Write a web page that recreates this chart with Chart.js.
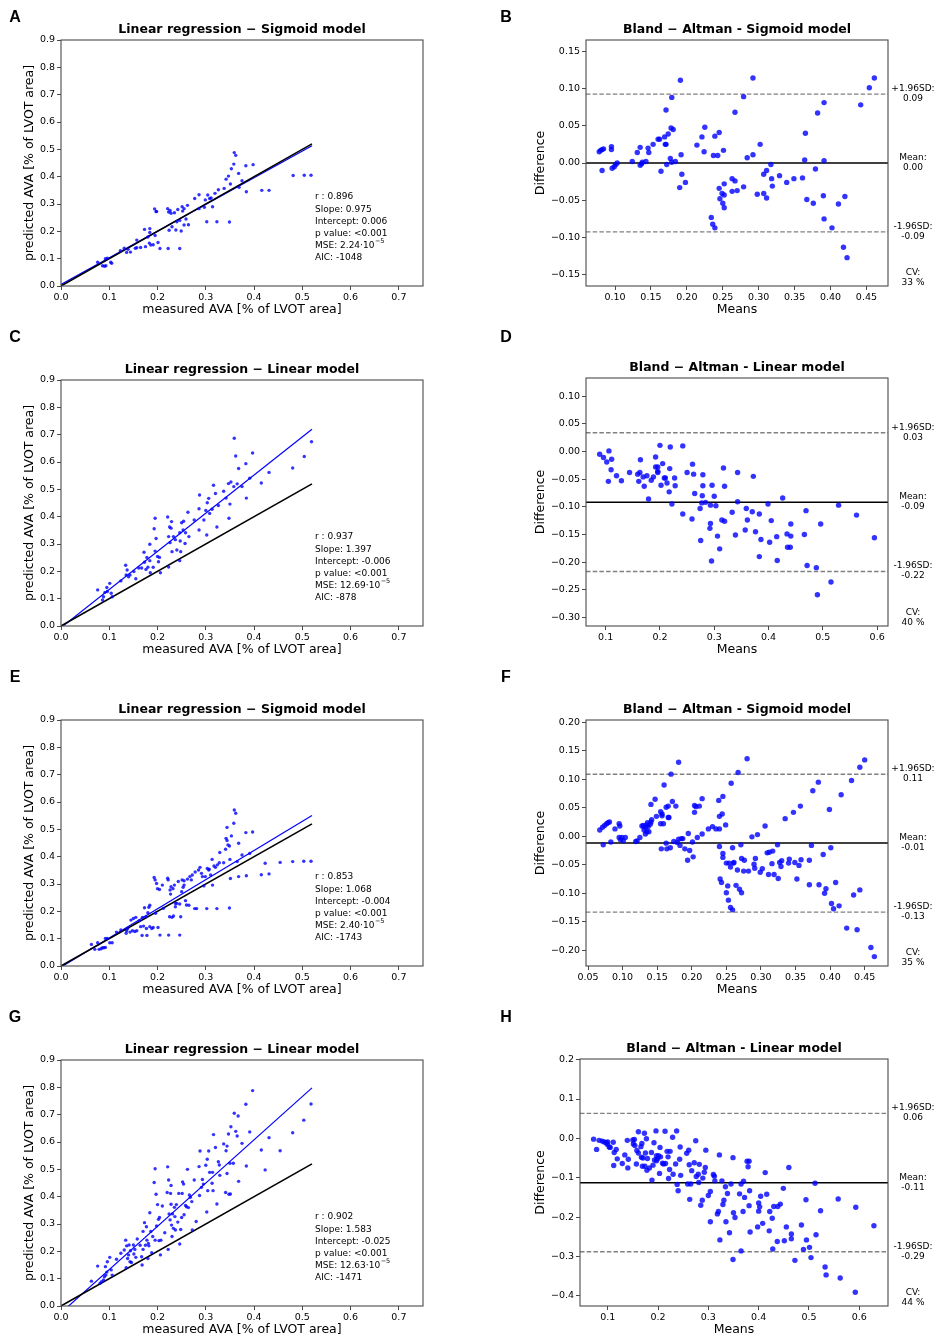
<!DOCTYPE html>
<html>
<head>
<meta charset="utf-8">
<script src="https://cdn.jsdelivr.net/npm/chart.js@4.4.1/dist/chart.umd.min.js"></script>
<style>
  html, body { margin: 0; padding: 0; background: #fff; }
  #fig { position: relative; width: 937px; height: 1339px; overflow: hidden; }
  .cell { position: absolute; }
  .letter { position: absolute; font: bold 16px "Liberation Sans", Arial, sans-serif; color: #000; transform: translate(-50%, -50%); }
</style>
</head>
<body>
<div id="fig"></div>
<script>
// ── Data ─────────────────────────────────────────────────────────────────────

const regXTicks = ['0.0', '0.1', '0.2', '0.3', '0.4', '0.5', '0.6', '0.7'];
const regYTicks = ['0.0', '0.1', '0.2', '0.3', '0.4', '0.5', '0.6', '0.7', '0.8', '0.9'];
const lineX     = [0, 0.52];
const identityY = [0, 0.52];

// A – regression, sigmoid model
const pointsA = [[0.076,0.087],[0.086,0.074],[0.090,0.072],[0.093,0.074],[0.092,0.100],[0.096,0.102],[0.103,0.087],[0.105,0.083],[0.123,0.129],[0.131,0.138],[0.136,0.123],[0.139,0.134],[0.144,0.124],[0.154,0.138],[0.157,0.168],[0.157,0.140],[0.165,0.141],[0.173,0.207],[0.175,0.144],[0.180,0.179],[0.184,0.210],[0.184,0.196],[0.183,0.157],[0.186,0.150],[0.191,0.151],[0.194,0.282],[0.197,0.272],[0.195,0.185],[0.198,0.273],[0.201,0.159],[0.205,0.137],[0.222,0.137],[0.221,0.283],[0.223,0.271],[0.224,0.204],[0.226,0.276],[0.228,0.266],[0.230,0.217],[0.235,0.268],[0.238,0.205],[0.240,0.235],[0.242,0.280],[0.246,0.240],[0.246,0.137],[0.249,0.201],[0.251,0.290],[0.252,0.274],[0.255,0.283],[0.255,0.223],[0.259,0.245],[0.262,0.295],[0.264,0.224],[0.277,0.320],[0.286,0.334],[0.286,0.283],[0.297,0.288],[0.299,0.315],[0.302,0.235],[0.304,0.333],[0.308,0.320],[0.311,0.322],[0.314,0.290],[0.319,0.339],[0.323,0.235],[0.326,0.352],[0.338,0.357],[0.342,0.391],[0.347,0.402],[0.349,0.234],[0.351,0.373],[0.353,0.429],[0.358,0.446],[0.359,0.488],[0.362,0.478],[0.368,0.412],[0.369,0.361],[0.375,0.385],[0.383,0.440],[0.384,0.345],[0.398,0.444],[0.416,0.350],[0.431,0.350],[0.481,0.404],[0.504,0.405],[0.518,0.405]];
const fitA   = [0.006, 0.513];
const statsA = ['r : 0.896', 'Slope: 0.975', 'Intercept: 0.006', 'p value: <0.001', 'MSE: 2.24·10', 'AIC: -1048'];

// B – Bland-Altman, sigmoid model
const pointsB = [[0.078,0.015],[0.080,0.017],[0.082,0.018],[0.084,0.019],[0.082,-0.010],[0.095,0.022],[0.095,0.018],[0.096,-0.007],[0.099,-0.005],[0.101,-0.002],[0.103,0.000],[0.124,0.002],[0.131,0.014],[0.135,0.021],[0.135,-0.003],[0.137,-0.001],[0.138,0.001],[0.143,0.002],[0.146,0.020],[0.147,0.014],[0.153,0.025],[0.160,0.032],[0.162,0.032],[0.164,-0.011],[0.169,0.035],[0.170,0.025],[0.171,0.025],[0.171,0.071],[0.172,-0.002],[0.174,0.039],[0.177,0.006],[0.178,0.047],[0.179,0.088],[0.179,0.001],[0.181,0.045],[0.184,0.002],[0.191,0.111],[0.192,0.011],[0.193,-0.015],[0.190,-0.033],[0.198,-0.026],[0.214,0.024],[0.221,0.035],[0.225,0.048],[0.224,0.015],[0.234,-0.073],[0.236,-0.082],[0.239,-0.087],[0.237,0.010],[0.239,0.036],[0.243,0.010],[0.245,0.041],[0.245,-0.034],[0.246,-0.048],[0.249,-0.041],[0.250,-0.054],[0.252,-0.043],[0.252,-0.060],[0.252,-0.028],[0.251,0.017],[0.263,-0.021],[0.267,-0.024],[0.263,-0.038],[0.267,0.068],[0.270,-0.037],[0.279,0.089],[0.279,-0.032],[0.284,0.007],[0.292,0.011],[0.292,0.114],[0.298,-0.042],[0.302,0.025],[0.307,-0.041],[0.307,-0.015],[0.311,-0.010],[0.311,-0.047],[0.317,-0.002],[0.318,-0.021],[0.319,-0.031],[0.329,-0.017],[0.339,-0.026],[0.349,-0.021],[0.361,-0.020],[0.364,0.004],[0.365,0.040],[0.367,-0.049],[0.376,-0.054],[0.379,-0.008],[0.382,0.067],[0.390,-0.044],[0.391,0.003],[0.391,0.081],[0.391,-0.075],[0.402,-0.087],[0.411,-0.055],[0.420,-0.045],[0.418,-0.113],[0.423,-0.127],[0.442,0.078],[0.454,0.101],[0.461,0.114]];
const xTicksB  = ['0.10', '0.15', '0.20', '0.25', '0.30', '0.35', '0.40', '0.45'];
const yTicksB  = ['−0.15', '−0.10', '−0.05', '0.00', '0.05', '0.10', '0.15'];
const xRangeB  = [0.0596, 0.480];
const yRangeB  = [-0.165, 0.165];
const limitsB  = [0.0924, 0.000, -0.0924];            // +1.96SD, mean, -1.96SD
const labelsB  = ['0.09', '0.00', '-0.09', '33 %'];

// C – regression, linear model
const pointsC = [[0.076,0.132],[0.086,0.095],[0.088,0.107],[0.091,0.123],[0.095,0.141],[0.096,0.126],[0.101,0.156],[0.104,0.120],[0.106,0.107],[0.124,0.165],[0.134,0.222],[0.135,0.187],[0.137,0.205],[0.140,0.180],[0.143,0.187],[0.151,0.199],[0.155,0.173],[0.161,0.212],[0.167,0.212],[0.172,0.270],[0.173,0.233],[0.176,0.207],[0.178,0.251],[0.180,0.215],[0.184,0.299],[0.184,0.239],[0.185,0.195],[0.191,0.215],[0.193,0.356],[0.195,0.394],[0.195,0.274],[0.197,0.320],[0.200,0.254],[0.202,0.235],[0.204,0.251],[0.206,0.195],[0.221,0.399],[0.223,0.216],[0.223,0.327],[0.225,0.362],[0.226,0.305],[0.228,0.358],[0.229,0.382],[0.230,0.272],[0.233,0.327],[0.237,0.316],[0.240,0.278],[0.246,0.341],[0.246,0.239],[0.247,0.311],[0.248,0.272],[0.250,0.378],[0.253,0.351],[0.254,0.383],[0.257,0.302],[0.258,0.341],[0.263,0.416],[0.265,0.327],[0.276,0.388],[0.286,0.351],[0.286,0.429],[0.287,0.479],[0.296,0.388],[0.300,0.423],[0.302,0.333],[0.303,0.451],[0.306,0.467],[0.308,0.412],[0.313,0.427],[0.316,0.515],[0.320,0.485],[0.323,0.362],[0.326,0.441],[0.337,0.493],[0.342,0.468],[0.347,0.521],[0.348,0.394],[0.350,0.446],[0.352,0.527],[0.358,0.510],[0.359,0.687],[0.362,0.622],[0.365,0.520],[0.368,0.576],[0.375,0.510],[0.383,0.594],[0.384,0.468],[0.391,0.541],[0.397,0.633],[0.415,0.523],[0.431,0.562],[0.480,0.578],[0.504,0.620],[0.519,0.674]];
const fitC   = [-0.006, 0.720];
const statsC = ['r : 0.937', 'Slope: 1.397', 'Intercept: -0.006', 'p value: <0.001', 'MSE: 12.69·10', 'AIC: -878'];

// D – Bland-Altman, linear model
const pointsD = [[0.089,-0.005],[0.096,-0.011],[0.102,-0.019],[0.106,0.001],[0.111,-0.014],[0.110,-0.033],[0.105,-0.054],[0.120,-0.044],[0.129,-0.053],[0.144,-0.038],[0.159,-0.041],[0.163,-0.038],[0.161,-0.054],[0.164,-0.015],[0.169,-0.046],[0.171,-0.063],[0.176,-0.044],[0.179,-0.086],[0.184,-0.052],[0.188,-0.046],[0.192,-0.010],[0.192,-0.028],[0.196,-0.038],[0.196,-0.028],[0.196,-0.036],[0.200,0.011],[0.202,-0.061],[0.205,-0.022],[0.208,-0.048],[0.210,-0.048],[0.213,-0.057],[0.217,-0.073],[0.218,-0.031],[0.219,0.008],[0.222,-0.095],[0.227,-0.048],[0.228,-0.062],[0.242,0.010],[0.242,-0.113],[0.250,-0.038],[0.259,-0.122],[0.260,-0.023],[0.262,-0.041],[0.264,-0.076],[0.274,-0.103],[0.275,-0.161],[0.277,-0.093],[0.278,-0.080],[0.279,-0.042],[0.279,-0.062],[0.284,-0.092],[0.293,-0.097],[0.293,-0.130],[0.292,-0.139],[0.295,-0.198],[0.296,-0.061],[0.300,-0.081],[0.303,-0.098],[0.306,-0.153],[0.310,-0.176],[0.314,-0.124],[0.317,-0.030],[0.319,-0.126],[0.319,-0.063],[0.333,-0.110],[0.339,-0.151],[0.343,-0.038],[0.343,-0.091],[0.359,-0.103],[0.361,-0.124],[0.357,-0.142],[0.370,-0.109],[0.372,-0.045],[0.376,-0.145],[0.383,-0.190],[0.383,-0.113],[0.386,-0.159],[0.399,-0.095],[0.402,-0.164],[0.405,-0.125],[0.415,-0.154],[0.416,-0.197],[0.426,-0.084],[0.434,-0.149],[0.435,-0.173],[0.440,-0.173],[0.441,-0.131],[0.441,-0.153],[0.466,-0.150],[0.469,-0.107],[0.471,-0.206],[0.488,-0.210],[0.490,-0.259],[0.496,-0.131],[0.515,-0.236],[0.529,-0.097],[0.562,-0.115],[0.595,-0.156]];
const xTicksD  = ['0.1', '0.2', '0.3', '0.4', '0.5', '0.6'];
const yTicksD  = ['−0.30', '−0.25', '−0.20', '−0.15', '−0.10', '−0.05', '0.00', '0.05', '0.10'];
const xRangeD  = [0.0638, 0.620];
const yRangeD  = [-0.3154, 0.1327];
const limitsD  = [0.0338, -0.0917, -0.217];
const labelsD  = ['0.03', '-0.09', '-0.22', '40 %'];

// E – regression, sigmoid model
const pointsE = [[0.063,0.079],[0.070,0.061],[0.076,0.085],[0.079,0.061],[0.083,0.063],[0.086,0.067],[0.089,0.067],[0.092,0.068],[0.092,0.101],[0.096,0.101],[0.101,0.085],[0.106,0.085],[0.115,0.124],[0.124,0.132],[0.135,0.120],[0.136,0.129],[0.138,0.137],[0.143,0.124],[0.145,0.168],[0.148,0.129],[0.150,0.174],[0.153,0.126],[0.155,0.178],[0.157,0.129],[0.162,0.166],[0.165,0.144],[0.168,0.112],[0.169,0.178],[0.171,0.146],[0.173,0.213],[0.176,0.180],[0.177,0.137],[0.178,0.112],[0.180,0.195],[0.182,0.215],[0.184,0.222],[0.184,0.144],[0.188,0.137],[0.191,0.141],[0.193,0.324],[0.195,0.315],[0.196,0.193],[0.198,0.302],[0.200,0.283],[0.201,0.141],[0.204,0.280],[0.205,0.113],[0.210,0.296],[0.212,0.211],[0.221,0.321],[0.222,0.315],[0.223,0.113],[0.225,0.180],[0.226,0.278],[0.227,0.263],[0.228,0.290],[0.230,0.178],[0.232,0.283],[0.233,0.183],[0.235,0.296],[0.237,0.229],[0.237,0.217],[0.240,0.229],[0.243,0.309],[0.246,0.227],[0.246,0.113],[0.248,0.180],[0.250,0.272],[0.251,0.315],[0.253,0.288],[0.255,0.296],[0.255,0.312],[0.258,0.239],[0.260,0.223],[0.262,0.318],[0.265,0.222],[0.267,0.327],[0.270,0.315],[0.272,0.333],[0.277,0.210],[0.278,0.344],[0.281,0.210],[0.285,0.351],[0.288,0.361],[0.291,0.339],[0.293,0.327],[0.296,0.293],[0.299,0.327],[0.302,0.210],[0.303,0.357],[0.306,0.351],[0.307,0.354],[0.310,0.333],[0.313,0.390],[0.314,0.296],[0.317,0.366],[0.320,0.361],[0.323,0.210],[0.324,0.370],[0.328,0.378],[0.329,0.415],[0.337,0.378],[0.341,0.427],[0.342,0.467],[0.344,0.459],[0.344,0.507],[0.346,0.443],[0.349,0.439],[0.349,0.212],[0.350,0.390],[0.351,0.320],[0.353,0.476],[0.358,0.522],[0.359,0.571],[0.362,0.559],[0.365,0.382],[0.368,0.449],[0.368,0.327],[0.375,0.406],[0.383,0.488],[0.384,0.330],[0.391,0.412],[0.397,0.490],[0.415,0.334],[0.423,0.376],[0.431,0.337],[0.454,0.379],[0.480,0.382],[0.503,0.383],[0.518,0.383]];
const fitE   = [-0.004, 0.551];
const statsE = ['r : 0.853', 'Slope: 1.068', 'Intercept: -0.004', 'p value: <0.001', 'MSE: 2.40·10', 'AIC: -1743'];

// F – Bland-Altman, sigmoid model
const pointsF = [[0.067,0.011],[0.071,0.016],[0.074,0.019],[0.077,0.022],[0.079,0.024],[0.081,0.025],[0.072,-0.015],[0.083,-0.010],[0.089,0.013],[0.095,0.022],[0.096,0.018],[0.095,-0.002],[0.097,-0.006],[0.099,-0.002],[0.101,-0.008],[0.104,-0.002],[0.119,-0.009],[0.121,-0.008],[0.125,-0.002],[0.128,0.018],[0.130,0.019],[0.131,0.011],[0.133,0.004],[0.133,0.016],[0.135,0.020],[0.135,0.008],[0.136,0.024],[0.137,0.017],[0.138,0.008],[0.140,0.021],[0.141,0.025],[0.141,0.056],[0.142,0.029],[0.147,0.065],[0.149,0.035],[0.155,0.043],[0.155,0.022],[0.157,0.036],[0.157,0.039],[0.159,0.022],[0.160,0.090],[0.156,-0.022],[0.163,-0.012],[0.164,-0.022],[0.163,0.051],[0.166,0.053],[0.166,0.033],[0.167,0.033],[0.169,-0.020],[0.170,0.109],[0.172,0.061],[0.174,-0.009],[0.177,0.053],[0.179,-0.011],[0.181,0.130],[0.181,-0.005],[0.183,-0.016],[0.185,-0.004],[0.187,-0.004],[0.190,-0.022],[0.194,-0.042],[0.195,0.005],[0.197,-0.025],[0.201,-0.010],[0.202,-0.036],[0.204,0.042],[0.204,0.054],[0.206,0.052],[0.208,-0.002],[0.211,0.053],[0.215,0.066],[0.215,0.004],[0.224,0.013],[0.230,0.017],[0.235,0.013],[0.240,0.013],[0.239,0.063],[0.240,-0.018],[0.240,0.035],[0.244,0.039],[0.245,0.070],[0.241,-0.075],[0.243,-0.081],[0.245,-0.037],[0.245,-0.030],[0.249,0.020],[0.250,-0.047],[0.250,-0.099],[0.252,-0.087],[0.253,-0.112],[0.254,-0.047],[0.256,-0.054],[0.257,0.093],[0.256,-0.125],[0.259,-0.129],[0.259,-0.020],[0.260,-0.047],[0.261,-0.046],[0.264,-0.086],[0.266,-0.059],[0.267,0.112],[0.269,-0.093],[0.271,-0.015],[0.272,-0.099],[0.272,-0.039],[0.275,-0.061],[0.276,-0.042],[0.280,0.136],[0.282,-0.061],[0.287,-0.001],[0.290,-0.049],[0.292,-0.039],[0.291,-0.056],[0.295,0.003],[0.299,-0.063],[0.302,-0.057],[0.306,0.018],[0.309,-0.029],[0.311,-0.067],[0.312,-0.028],[0.316,-0.048],[0.317,-0.026],[0.319,-0.067],[0.324,-0.015],[0.325,-0.074],[0.327,-0.046],[0.329,-0.053],[0.330,-0.043],[0.335,0.031],[0.340,-0.047],[0.341,-0.040],[0.347,0.042],[0.349,-0.046],[0.352,-0.075],[0.355,-0.051],[0.357,0.053],[0.358,-0.041],[0.370,-0.042],[0.370,-0.085],[0.373,-0.016],[0.375,0.080],[0.383,0.095],[0.384,-0.085],[0.390,-0.032],[0.392,-0.100],[0.394,-0.092],[0.399,0.047],[0.401,-0.020],[0.402,-0.118],[0.405,-0.127],[0.408,-0.081],[0.413,-0.122],[0.416,0.073],[0.424,-0.161],[0.431,0.098],[0.434,-0.103],[0.439,-0.164],[0.443,-0.094],[0.443,0.121],[0.450,0.134],[0.459,-0.195],[0.464,-0.211]];
const xTicksF  = ['0.05', '0.10', '0.15', '0.20', '0.25', '0.30', '0.35', '0.40', '0.45'];
const yTicksF  = ['−0.20', '−0.15', '−0.10', '−0.05', '0.00', '0.05', '0.10', '0.15', '0.20'];
const xRangeF  = [0.0471, 0.4837];
const yRangeF  = [-0.2275, 0.204];
const limitsF  = [0.1088, -0.0117, -0.133];
const labelsF  = ['0.11', '-0.01', '-0.13', '35 %'];

// G – regression, linear model
const pointsG = [[0.063,0.091],[0.076,0.146],[0.081,0.083],[0.084,0.089],[0.088,0.095],[0.090,0.107],[0.092,0.144],[0.093,0.113],[0.095,0.124],[0.096,0.162],[0.101,0.178],[0.104,0.132],[0.106,0.113],[0.115,0.171],[0.124,0.193],[0.131,0.205],[0.134,0.241],[0.135,0.140],[0.136,0.220],[0.138,0.174],[0.140,0.187],[0.141,0.223],[0.143,0.162],[0.144,0.202],[0.146,0.159],[0.150,0.223],[0.151,0.190],[0.153,0.207],[0.155,0.178],[0.158,0.245],[0.164,0.222],[0.167,0.180],[0.168,0.150],[0.170,0.207],[0.170,0.273],[0.173,0.305],[0.175,0.222],[0.177,0.290],[0.178,0.241],[0.180,0.174],[0.181,0.229],[0.182,0.220],[0.184,0.341],[0.186,0.273],[0.188,0.195],[0.190,0.254],[0.193,0.452],[0.195,0.502],[0.195,0.241],[0.197,0.409],[0.198,0.293],[0.200,0.371],[0.202,0.317],[0.203,0.239],[0.204,0.324],[0.206,0.187],[0.207,0.241],[0.210,0.366],[0.215,0.268],[0.220,0.415],[0.221,0.509],[0.222,0.207],[0.223,0.461],[0.224,0.337],[0.226,0.315],[0.227,0.412],[0.228,0.372],[0.228,0.441],[0.229,0.296],[0.230,0.254],[0.231,0.337],[0.233,0.284],[0.235,0.361],[0.236,0.327],[0.237,0.278],[0.239,0.371],[0.242,0.307],[0.244,0.412],[0.246,0.227],[0.248,0.280],[0.250,0.324],[0.251,0.412],[0.252,0.454],[0.254,0.446],[0.255,0.334],[0.258,0.368],[0.260,0.363],[0.262,0.500],[0.264,0.360],[0.266,0.406],[0.268,0.398],[0.271,0.382],[0.272,0.278],[0.276,0.461],[0.280,0.309],[0.286,0.510],[0.287,0.404],[0.288,0.567],[0.291,0.434],[0.293,0.463],[0.295,0.446],[0.300,0.515],[0.302,0.344],[0.303,0.537],[0.304,0.422],[0.306,0.567],[0.308,0.489],[0.313,0.449],[0.314,0.489],[0.315,0.422],[0.316,0.627],[0.320,0.580],[0.323,0.373],[0.326,0.528],[0.328,0.516],[0.329,0.478],[0.337,0.593],[0.341,0.415],[0.342,0.568],[0.344,0.585],[0.344,0.485],[0.347,0.629],[0.348,0.409],[0.350,0.522],[0.351,0.410],[0.352,0.656],[0.357,0.522],[0.359,0.705],[0.362,0.639],[0.365,0.622],[0.367,0.695],[0.368,0.456],[0.375,0.595],[0.383,0.738],[0.384,0.512],[0.391,0.637],[0.397,0.788],[0.415,0.571],[0.423,0.498],[0.431,0.616],[0.454,0.568],[0.480,0.634],[0.503,0.680],[0.518,0.739]];
const fitG   = [-0.025, 0.798];
const statsG = ['r : 0.902', 'Slope: 1.583', 'Intercept: -0.025', 'p value: <0.001', 'MSE: 12.63·10', 'AIC: -1471'];

// H – Bland-Altman, linear model
const pointsH = [[0.072,-0.002],[0.078,-0.028],[0.083,-0.005],[0.089,-0.007],[0.093,-0.009],[0.097,-0.011],[0.099,-0.015],[0.100,-0.009],[0.103,-0.022],[0.105,-0.023],[0.111,-0.010],[0.112,-0.069],[0.113,-0.036],[0.117,-0.028],[0.119,-0.052],[0.129,-0.064],[0.134,-0.042],[0.139,-0.005],[0.141,-0.053],[0.140,-0.075],[0.150,-0.004],[0.151,-0.014],[0.153,-0.003],[0.154,-0.018],[0.157,-0.065],[0.158,-0.031],[0.161,0.017],[0.161,-0.037],[0.166,-0.021],[0.167,-0.048],[0.168,-0.013],[0.169,-0.071],[0.170,-0.050],[0.173,0.013],[0.174,-0.071],[0.175,-0.037],[0.177,-0.001],[0.178,-0.081],[0.179,-0.051],[0.183,-0.075],[0.187,-0.036],[0.188,-0.106],[0.190,-0.068],[0.192,-0.011],[0.193,-0.055],[0.196,0.019],[0.197,-0.044],[0.197,-0.057],[0.199,-0.052],[0.201,-0.044],[0.203,-0.089],[0.204,-0.023],[0.205,-0.047],[0.209,-0.063],[0.211,-0.065],[0.214,0.018],[0.215,-0.064],[0.218,-0.033],[0.220,-0.047],[0.221,-0.102],[0.223,-0.079],[0.224,-0.033],[0.229,0.003],[0.230,-0.091],[0.235,-0.065],[0.237,0.019],[0.238,-0.117],[0.240,-0.133],[0.243,-0.053],[0.244,-0.022],[0.245,-0.094],[0.257,-0.038],[0.259,-0.116],[0.261,-0.030],[0.262,-0.067],[0.263,-0.155],[0.265,-0.116],[0.267,-0.082],[0.272,-0.062],[0.275,-0.006],[0.276,-0.097],[0.280,-0.091],[0.281,-0.112],[0.282,-0.066],[0.285,-0.170],[0.288,-0.157],[0.289,-0.101],[0.292,-0.086],[0.294,-0.074],[0.295,-0.030],[0.300,-0.145],[0.304,-0.212],[0.304,-0.135],[0.310,-0.092],[0.312,-0.096],[0.313,-0.108],[0.318,-0.192],[0.320,-0.186],[0.322,-0.042],[0.323,-0.258],[0.327,-0.108],[0.329,-0.168],[0.331,-0.157],[0.334,-0.123],[0.335,-0.212],[0.338,-0.140],[0.342,-0.240],[0.345,-0.116],[0.349,-0.049],[0.349,-0.308],[0.350,-0.189],[0.353,-0.201],[0.362,-0.141],[0.365,-0.286],[0.365,-0.116],[0.369,-0.186],[0.370,-0.109],[0.372,-0.150],[0.377,-0.058],[0.379,-0.072],[0.381,-0.058],[0.381,-0.171],[0.382,-0.133],[0.383,-0.238],[0.398,-0.225],[0.400,-0.185],[0.400,-0.164],[0.402,-0.174],[0.404,-0.147],[0.408,-0.216],[0.413,-0.087],[0.416,-0.142],[0.421,-0.235],[0.422,-0.186],[0.427,-0.203],[0.428,-0.281],[0.430,-0.173],[0.437,-0.262],[0.438,-0.173],[0.443,-0.167],[0.449,-0.127],[0.451,-0.260],[0.455,-0.225],[0.460,-0.074],[0.465,-0.243],[0.465,-0.255],[0.472,-0.310],[0.485,-0.220],[0.489,-0.282],[0.494,-0.156],[0.495,-0.258],[0.501,-0.277],[0.504,-0.303],[0.512,-0.114],[0.514,-0.245],[0.523,-0.184],[0.532,-0.327],[0.534,-0.347],[0.558,-0.154],[0.562,-0.355],[0.593,-0.175],[0.592,-0.391],[0.629,-0.222]];
const xTicksH  = ['0.1', '0.2', '0.3', '0.4', '0.5', '0.6'];
const yTicksH  = ['−0.4', '−0.3', '−0.2', '−0.1', '0.0', '0.1', '0.2'];
const xRangeH  = [0.045, 0.657];
const yRangeH  = [-0.426, 0.2017];
const limitsH  = [0.0636, -0.1127, -0.288];
const labelsH  = ['0.06', '-0.11', '-0.29', '44 %'];

// ── Layout (page pixels) ─────────────────────────────────────────────────────

const PANELS = [
  { letter: 'A', kind: 'reg', pts: pointsA, fit: fitA, stats: statsA, title: 'Linear regression − Sigmoid model',
    box: { l: 61,  r: 423, t: 40,   b: 286 },  ytx: 30,  ly: 17 },
  { letter: 'B', kind: 'ba', pts: pointsB, xt: xTicksB, yt: yTicksB, xr: xRangeB, yr: yRangeB, lim: limitsB, lab: labelsB,
    title: 'Bland − Altman - Sigmoid model', box: { l: 586, r: 888, t: 40, b: 286 }, ytx: 541, ly: 17 },
  { letter: 'C', kind: 'reg', pts: pointsC, fit: fitC, stats: statsC, title: 'Linear regression − Linear model',
    box: { l: 61,  r: 423, t: 380,  b: 626 },  ytx: 30,  ly: 337 },
  { letter: 'D', kind: 'ba', pts: pointsD, xt: xTicksD, yt: yTicksD, xr: xRangeD, yr: yRangeD, lim: limitsD, lab: labelsD,
    title: 'Bland − Altman - Linear model', box: { l: 586, r: 888, t: 378, b: 626 }, ytx: 541, ly: 337 },
  { letter: 'E', kind: 'reg', pts: pointsE, fit: fitE, stats: statsE, title: 'Linear regression − Sigmoid model',
    box: { l: 61,  r: 423, t: 720,  b: 966 },  ytx: 30,  ly: 677 },
  { letter: 'F', kind: 'ba', pts: pointsF, xt: xTicksF, yt: yTicksF, xr: xRangeF, yr: yRangeF, lim: limitsF, lab: labelsF,
    title: 'Bland − Altman - Sigmoid model', box: { l: 586, r: 888, t: 720, b: 966 }, ytx: 541, ly: 677 },
  { letter: 'G', kind: 'reg', pts: pointsG, fit: fitG, stats: statsG, title: 'Linear regression − Linear model',
    box: { l: 61,  r: 423, t: 1060, b: 1306 }, ytx: 30,  ly: 1017 },
  { letter: 'H', kind: 'ba', pts: pointsH, xt: xTicksH, yt: yTicksH, xr: xRangeH, yr: yRangeH, lim: limitsH, lab: labelsH,
    title: 'Bland − Altman - Linear model', box: { l: 580, r: 888, t: 1059, b: 1306 }, ytx: 541, ly: 1017 },
];

const FONT   = '"DejaVu Sans", "Noto Sans", sans-serif';
const BLUE   = 'rgba(0, 0, 255, 0.8)';
const FRAME  = '#4a4a4a';
const PAD_T  = 45;   // canvas space above the plot box
const XAX_H  = 31;   // x axis block height
const PAD_B  = 19;

Chart.defaults.font.family = FONT;
Chart.defaults.color = '#000';

// ── Helpers ──────────────────────────────────────────────────────────────────

const num = s => parseFloat(s.replace('−', '-'));
const toXY = pts => pts.map(p => ({ x: p[0], y: p[1] }));

function axis(labels, range, title, fixed) {
  const vals = labels.map(num);
  return {
    type: 'linear',
    min: range[0],
    max: range[1],
    afterBuildTicks: s => { s.ticks = vals.map(v => ({ value: v })); },
    afterFit: fixed,
    ticks: { font: { size: 9.5 }, color: '#000', padding: 2, autoSkip: false, maxRotation: 0,
             callback: (v, i) => labels[i] },
    grid: { drawOnChartArea: false, drawTicks: true, tickLength: 4, color: FRAME, lineWidth: 1 },
    border: { display: false },
    title: { display: true, text: title, font: { size: 12.5 }, color: '#000', padding: 0 },
  };
}

// frame, title, stats and limit labels
const decor = {
  id: 'decor',
  afterDraw(chart) {
    const p = chart.options.plugins.decor.panel;
    const { ctx, chartArea: a } = chart;
    ctx.save();
    ctx.strokeStyle = FRAME;
    ctx.lineWidth = 1.1;
    ctx.strokeRect(a.left, a.top, a.right - a.left, a.bottom - a.top);

    ctx.fillStyle = '#000';
    ctx.textBaseline = 'middle';
    ctx.textAlign = 'center';
    ctx.font = `bold 12.5px ${FONT}`;
    ctx.fillText(p.title, (a.left + a.right) / 2, a.top - 10);

    ctx.font = `9px ${FONT}`;
    if (p.kind === 'reg') {
      ctx.textAlign = 'left';
      const x = a.left + 254;
      p.stats.forEach((s, i) => {
        const y = a.bottom - 89 + i * 12.2;
        ctx.font = `9px ${FONT}`;
        ctx.fillText(s, x, y);
        if (s.startsWith('MSE')) {
          const w = ctx.measureText(s).width;
          ctx.font = `6.5px ${FONT}`;
          ctx.fillText('−5', x + w + 0.5, y - 4);
        }
      });
    } else {
      const x = a.right + 25;
      const ys = chart.scales.y;
      const heads = ['+1.96SD:', 'Mean:', '-1.96SD:'];
      p.lim.forEach((v, i) => {
        const py = ys.getPixelForValue(v);
        ctx.fillText(heads[i], x, py - 5.5);
        ctx.fillText(p.lab[i], x, py + 4.5);
      });
      ctx.fillText('CV:', x, a.bottom - 13);
      ctx.fillText(p.lab[3], x, a.bottom - 3);
    }
    ctx.restore();
  }
};

function buildPanel(p) {
  const fig = document.getElementById('fig');
  const right = p.box.l > 468;
  const cl = right ? 468 : 0;
  const cw = right ? 469 : 468;
  const top = p.box.t - PAD_T;
  const height = (p.box.b - p.box.t) + PAD_T + XAX_H + PAD_B;
  const padL = p.ytx - cl - 7.5;
  const yW = p.box.l - cl - padL;

  const cell = document.createElement('div');
  cell.className = 'cell';
  cell.style.cssText = `left:${cl}px;top:${top}px;width:${cw}px;height:${height}px;`;
  const cv = document.createElement('canvas');
  cell.appendChild(cv);
  fig.appendChild(cell);

  const lt = document.createElement('div');
  lt.className = 'letter';
  lt.textContent = p.letter;
  lt.style.left = (right ? 506 : 15) + 'px';
  lt.style.top = p.ly + 'px';
  fig.appendChild(lt);

  const fixY = s => { s.width = yW; };
  const fixX = s => { s.height = XAX_H; };

  let datasets, scales;
  if (p.kind === 'reg') {
    datasets = [
      { type: 'scatter', data: toXY(p.pts), pointRadius: 1.7, pointBackgroundColor: BLUE, pointBorderWidth: 0 },
      { type: 'line', data: lineX.map((x, i) => ({ x, y: identityY[i] })), borderColor: '#000', borderWidth: 1.6, pointRadius: 0 },
      { type: 'line', data: lineX.map((x, i) => ({ x, y: p.fit[i] })), borderColor: '#0000ff', borderWidth: 1.2, pointRadius: 0 },
    ];
    scales = {
      x: axis(regXTicks, [0, 0.75], 'measured AVA [% of LVOT area]', fixX),
      y: axis(regYTicks, [0, 0.9], 'predicted AVA [% of LVOT area]', fixY),
    };
  } else {
    const hline = (v, color, dash, w) => ({
      type: 'line', data: [{ x: p.xr[0], y: v }, { x: p.xr[1], y: v }],
      borderColor: color, borderWidth: w, borderDash: dash, pointRadius: 0,
    });
    datasets = [
      { type: 'scatter', data: toXY(p.pts), pointRadius: 2.7, pointBackgroundColor: BLUE, pointBorderWidth: 0 },
      hline(p.lim[1], '#000', [], 1.6),
      hline(p.lim[0], '#808080', [4.5, 2.2], 1.4),
      hline(p.lim[2], '#808080', [4.5, 2.2], 1.4),
    ];
    scales = {
      x: axis(p.xt, p.xr, 'Means', fixX),
      y: axis(p.yt, p.yr, 'Difference', fixY),
    };
  }

  new Chart(cv.getContext('2d'), {
    data: { datasets },
    options: {
      responsive: true,
      maintainAspectRatio: false,
      animation: false,
      layout: { padding: { top: PAD_T, left: padL, right: cl + cw - p.box.r, bottom: PAD_B } },
      plugins: { legend: { display: false }, tooltip: { enabled: false }, decor: { panel: p } },
      scales,
    },
    plugins: [decor],
  });
}

PANELS.forEach(buildPanel);
</script>
</body>
</html>
